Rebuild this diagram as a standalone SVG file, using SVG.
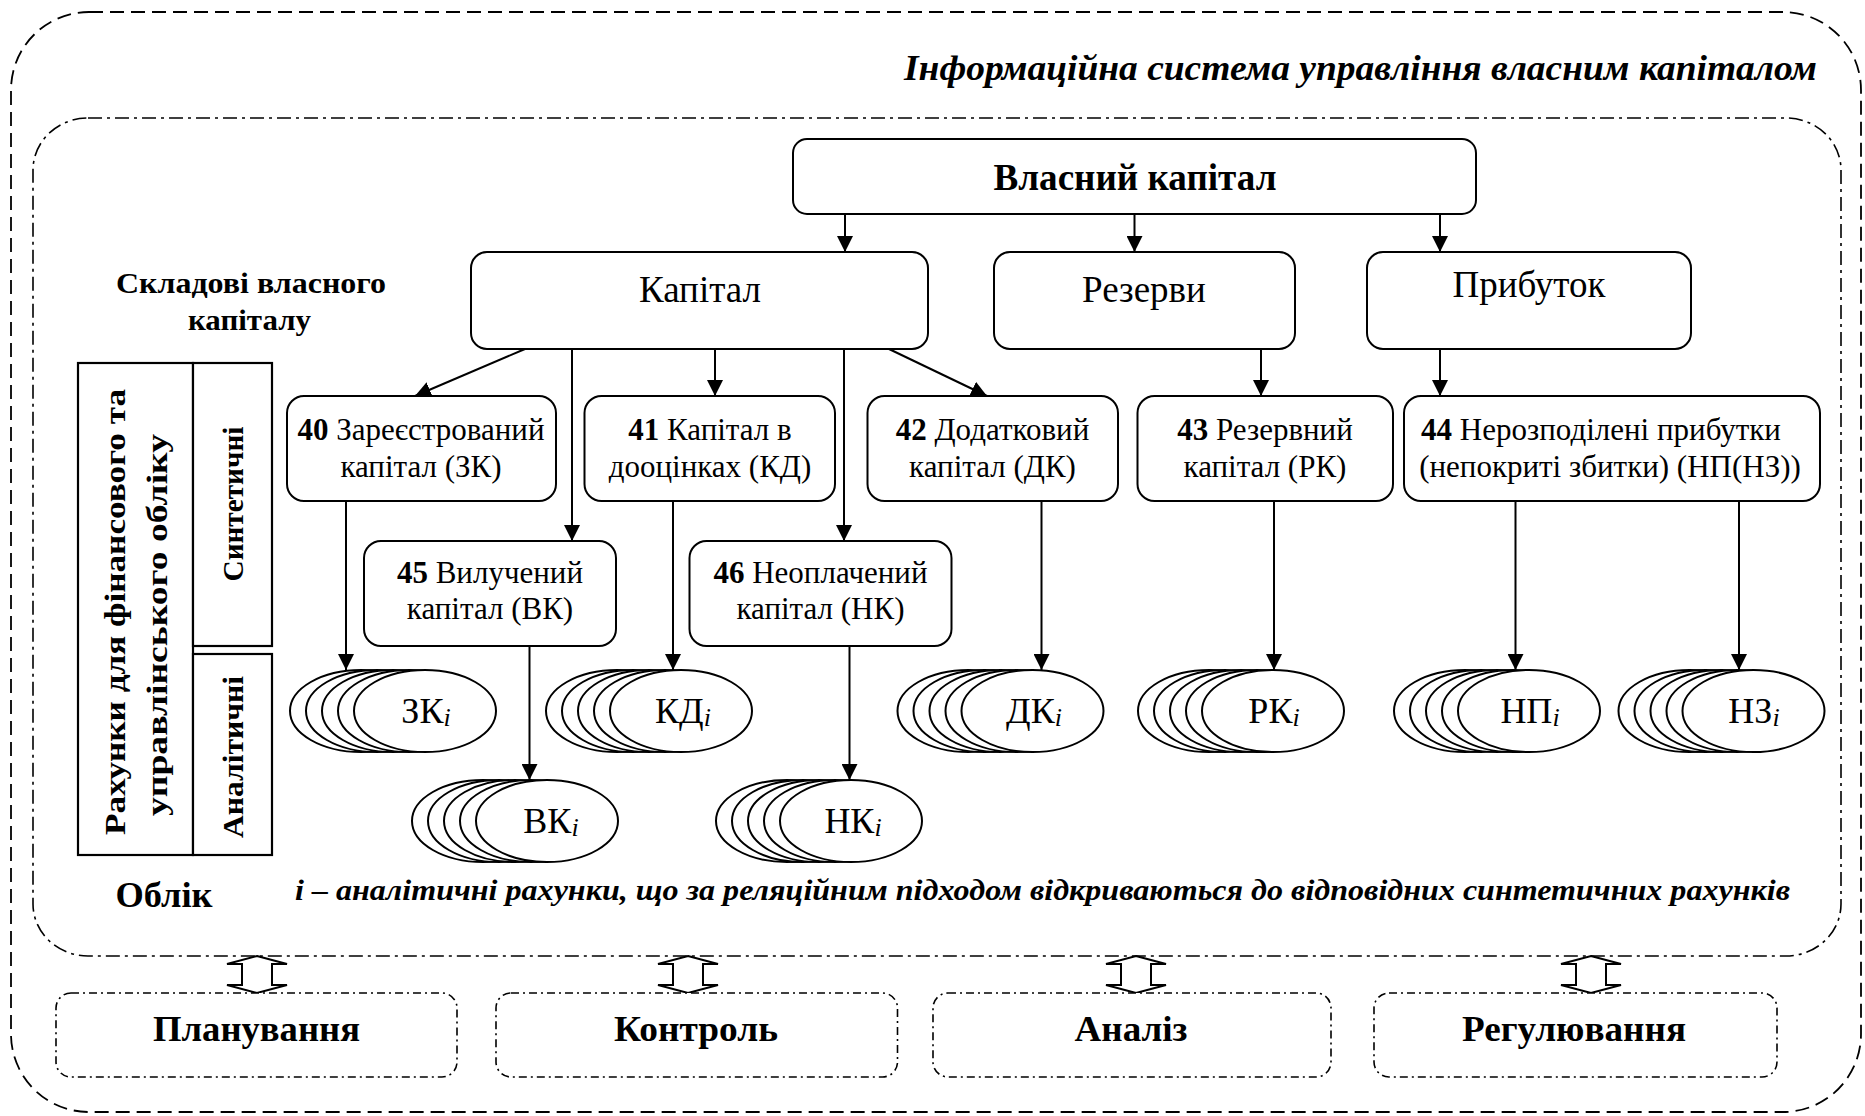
<svg xmlns="http://www.w3.org/2000/svg" xmlns:xlink="http://www.w3.org/1999/xlink" width="1865" height="1116" viewBox="0 0 1865 1116">
<style>
.frame-outer{fill:none;stroke:#000;stroke-width:1.8;stroke-dasharray:14 7}
.frame-inner{fill:none;stroke:#000;stroke-width:1.6;stroke-dasharray:14 5 3 5}
.frame-fn{fill:#fff;stroke:#000;stroke-width:1.6;stroke-dasharray:8 4 2 4}
.box{fill:#fff;stroke:#000;stroke-width:2}
.cell{fill:#fff;stroke:#000;stroke-width:2.2}
.n{font-size:31px;text-anchor:middle}
.big{font-size:37px;text-anchor:middle}
.b{font-weight:bold}
.lab{font-size:36px;text-anchor:middle}
.sub{font-size:26px;font-style:italic}
.fn{font-size:35px;font-weight:bold;text-anchor:middle}
.vert{font-size:30px;font-weight:bold;text-anchor:middle}
.con line{stroke:#000;stroke-width:2;marker-end:url(#ah)}
.stk{fill:#fff;stroke:#000;stroke-width:2}
.dbl{fill:#fff;stroke:#000;stroke-width:2}
</style>
<defs>
<marker id="ah" markerUnits="userSpaceOnUse" markerWidth="16" markerHeight="16" refX="16" refY="8" orient="auto">
<path d="M0,0 L16,8 L0,16 Z" fill="#000"/>
</marker>
<g id="stack">
<ellipse class="stk" cx="-64" cy="0" rx="71" ry="41"/>
<ellipse class="stk" cx="-48" cy="0" rx="71" ry="41"/>
<ellipse class="stk" cx="-32" cy="0" rx="71" ry="41"/>
<ellipse class="stk" cx="-16" cy="0" rx="71" ry="41"/>
<ellipse class="stk" cx="0" cy="0" rx="71" ry="41"/>
</g>
<path id="darrow" class="dbl" d="M0,0 L30,8 L15,8 L15,29 L30,29 L0,37 L-30,29 L-15,29 L-15,8 L-30,8 Z"/>
</defs>
<rect x="0" y="0" width="1865" height="1116" fill="#fff"/>

<g id="frame-system">
<rect class="frame-outer" x="11" y="12" width="1850" height="1100" rx="78" ry="78"/>
<text style="font-family:'Liberation Serif',serif" x="904" y="80" font-size="35" font-weight="bold" font-style="italic" textLength="913" lengthAdjust="spacingAndGlyphs">Інформаційна система управління власним капіталом</text>
</g>

<g id="frame-accounting">
<rect class="frame-inner" x="33" y="118" width="1808" height="838" rx="55" ry="52"/>
<text style="font-family:'Liberation Serif',serif" x="116" y="293" font-size="29" font-weight="bold" textLength="270" lengthAdjust="spacingAndGlyphs">Складові власного</text>
<text style="font-family:'Liberation Serif',serif" x="188" y="330" font-size="29" font-weight="bold" textLength="123" lengthAdjust="spacingAndGlyphs">капіталу</text>
<text style="font-family:'Liberation Serif',serif" class="fn" x="164" y="907" textLength="97" lengthAdjust="spacingAndGlyphs">Облік</text>
<text style="font-family:'Liberation Serif',serif" x="295" y="900" font-size="30" font-weight="bold" font-style="italic" textLength="1495" lengthAdjust="spacingAndGlyphs">і – аналітичні рахунки, що за реляційним підходом відкриваються до відповідних синтетичних рахунків</text>
</g>

<g id="accounts-table">
<rect class="cell" x="78" y="363" width="115" height="492"/>
<rect class="cell" x="193" y="363" width="79" height="283"/>
<rect class="cell" x="193" y="654" width="79" height="201"/>
<text style="font-family:'Liberation Serif',serif" class="vert" transform="translate(125,612) rotate(-90)" textLength="446" lengthAdjust="spacingAndGlyphs">Рахунки для фінансового та</text>
<text style="font-family:'Liberation Serif',serif" class="vert" transform="translate(167,625) rotate(-90)" textLength="382" lengthAdjust="spacingAndGlyphs">управлінського обліку</text>
<text style="font-family:'Liberation Serif',serif" class="vert" transform="translate(243,504) rotate(-90)" textLength="155" lengthAdjust="spacingAndGlyphs">Синтетичні</text>
<text style="font-family:'Liberation Serif',serif" class="vert" transform="translate(243,757) rotate(-90)" textLength="162" lengthAdjust="spacingAndGlyphs">Аналітичні</text>
</g>

<g id="connectors" class="con">
<line x1="845" y1="214" x2="845" y2="252"/>
<line x1="1134.5" y1="214" x2="1134.5" y2="252"/>
<line x1="1440" y1="214" x2="1440" y2="252"/>
<line x1="525" y1="349" x2="415" y2="396"/>
<line x1="572" y1="349" x2="572" y2="541"/>
<line x1="715" y1="349" x2="715" y2="396"/>
<line x1="844" y1="349" x2="844" y2="541"/>
<line x1="889" y1="349" x2="987" y2="396"/>
<line x1="1261" y1="349" x2="1261" y2="396"/>
<line x1="1440" y1="349" x2="1440" y2="396"/>
<line x1="346" y1="501" x2="346" y2="670"/>
<line x1="673" y1="501" x2="673" y2="670"/>
<line x1="529.5" y1="646" x2="529.5" y2="780"/>
<line x1="849.5" y1="646" x2="849.5" y2="780"/>
<line x1="1041.5" y1="501" x2="1041.5" y2="670"/>
<line x1="1274" y1="501" x2="1274" y2="670"/>
<line x1="1515.5" y1="501" x2="1515.5" y2="670"/>
<line x1="1739" y1="501" x2="1739" y2="670"/>
</g>

<g id="n-own-capital">
<rect class="box" x="793" y="139" width="683" height="75" rx="14"/>
<text style="font-family:'Liberation Serif',serif" class="big b" x="1135" y="190" textLength="283" lengthAdjust="spacingAndGlyphs">Власний капітал</text>
</g>
<g id="n-capital">
<rect class="box" x="471" y="252" width="457" height="97" rx="16"/>
<text style="font-family:'Liberation Serif',serif" class="big" x="700" y="302">Капітал</text>
</g>
<g id="n-reserves">
<rect class="box" x="994" y="252" width="301" height="97" rx="16"/>
<text style="font-family:'Liberation Serif',serif" class="big" x="1144" y="302">Резерви</text>
</g>
<g id="n-profit">
<rect class="box" x="1367" y="252" width="324" height="97" rx="16"/>
<text style="font-family:'Liberation Serif',serif" class="big" x="1529" y="297">Прибуток</text>
</g>

<g id="n-40">
<rect class="box" x="287" y="396" width="269" height="105" rx="17"/>
<text style="font-family:'Liberation Serif',serif" class="n" x="421" y="440"><tspan class="b">40</tspan> Зареєстрований</text>
<text style="font-family:'Liberation Serif',serif" class="n" x="421" y="477">капітал (ЗК)</text>
</g>
<g id="n-41">
<rect class="box" x="584.5" y="396" width="250.5" height="105" rx="17"/>
<text style="font-family:'Liberation Serif',serif" class="n" x="710" y="440"><tspan class="b">41</tspan> Капітал в</text>
<text style="font-family:'Liberation Serif',serif" class="n" x="710" y="477">дооцінках (КД)</text>
</g>
<g id="n-42">
<rect class="box" x="867.5" y="396" width="250.5" height="105" rx="17"/>
<text style="font-family:'Liberation Serif',serif" class="n" x="992.5" y="440"><tspan class="b">42</tspan> Додатковий</text>
<text style="font-family:'Liberation Serif',serif" class="n" x="992.5" y="477">капітал (ДК)</text>
</g>
<g id="n-43">
<rect class="box" x="1137.5" y="396" width="255.5" height="105" rx="17"/>
<text style="font-family:'Liberation Serif',serif" class="n" x="1265" y="440"><tspan class="b">43</tspan> Резервний</text>
<text style="font-family:'Liberation Serif',serif" class="n" x="1265" y="477">капітал (РК)</text>
</g>
<g id="n-44">
<rect class="box" x="1404" y="396" width="416" height="105" rx="17"/>
<text style="font-family:'Liberation Serif',serif" class="n" x="1601" y="440"><tspan class="b">44</tspan> Нерозподілені прибутки</text>
<text style="font-family:'Liberation Serif',serif" class="n" x="1610" y="477">(непокриті збитки) (НП(НЗ))</text>
</g>
<g id="n-45">
<rect class="box" x="364" y="541" width="252" height="105" rx="17"/>
<text style="font-family:'Liberation Serif',serif" class="n" x="490" y="583"><tspan class="b">45</tspan> Вилучений</text>
<text style="font-family:'Liberation Serif',serif" class="n" x="490" y="619">капітал (ВК)</text>
</g>
<g id="n-46">
<rect class="box" x="689.5" y="541" width="262" height="105" rx="17"/>
<text style="font-family:'Liberation Serif',serif" class="n" x="820.5" y="583"><tspan class="b">46</tspan> Неоплачений</text>
<text style="font-family:'Liberation Serif',serif" class="n" x="820.5" y="619">капітал (НК)</text>
</g>

<g id="a-zk">
<use xlink:href="#stack" x="425" y="711"/>
<text style="font-family:'Liberation Serif',serif" class="lab" x="426" y="723">ЗК<tspan class="sub" dy="3">i</tspan></text>
</g>
<g id="a-kd">
<use xlink:href="#stack" x="681" y="711"/>
<text style="font-family:'Liberation Serif',serif" class="lab" x="683" y="723">КД<tspan class="sub" dy="3">i</tspan></text>
</g>
<g id="a-dk">
<use xlink:href="#stack" x="1032.5" y="711"/>
<text style="font-family:'Liberation Serif',serif" class="lab" x="1034" y="723">ДК<tspan class="sub" dy="3">i</tspan></text>
</g>
<g id="a-rk">
<use xlink:href="#stack" x="1273" y="711"/>
<text style="font-family:'Liberation Serif',serif" class="lab" x="1274" y="723">РК<tspan class="sub" dy="3">i</tspan></text>
</g>
<g id="a-np">
<use xlink:href="#stack" x="1529" y="711"/>
<text style="font-family:'Liberation Serif',serif" class="lab" x="1530" y="723">НП<tspan class="sub" dy="3">i</tspan></text>
</g>
<g id="a-nz">
<use xlink:href="#stack" x="1753.5" y="711"/>
<text style="font-family:'Liberation Serif',serif" class="lab" x="1754" y="723">НЗ<tspan class="sub" dy="3">i</tspan></text>
</g>
<g id="a-vk">
<use xlink:href="#stack" x="547" y="821"/>
<text style="font-family:'Liberation Serif',serif" class="lab" x="551" y="833">ВК<tspan class="sub" dy="3">i</tspan></text>
</g>
<g id="a-nk">
<use xlink:href="#stack" x="851" y="821"/>
<text style="font-family:'Liberation Serif',serif" class="lab" x="853" y="833">НК<tspan class="sub" dy="3">i</tspan></text>
</g>

<g id="links-functions">
<use xlink:href="#darrow" x="257" y="956"/>
<use xlink:href="#darrow" x="688" y="956"/>
<use xlink:href="#darrow" x="1136" y="956"/>
<use xlink:href="#darrow" x="1591" y="956"/>
</g>

<g id="f-planning">
<rect class="frame-fn" x="56" y="993" width="401" height="84" rx="15"/>
<text style="font-family:'Liberation Serif',serif" class="fn" x="256.5" y="1041" textLength="207" lengthAdjust="spacingAndGlyphs">Планування</text>
</g>
<g id="f-control">
<rect class="frame-fn" x="496" y="993" width="401.5" height="84" rx="15"/>
<text style="font-family:'Liberation Serif',serif" class="fn" x="696" y="1041" textLength="164" lengthAdjust="spacingAndGlyphs">Контроль</text>
</g>
<g id="f-analysis">
<rect class="frame-fn" x="933" y="993" width="398" height="84" rx="15"/>
<text style="font-family:'Liberation Serif',serif" class="fn" x="1131" y="1041" textLength="113" lengthAdjust="spacingAndGlyphs">Аналіз</text>
</g>
<g id="f-regulation">
<rect class="frame-fn" x="1374" y="993" width="403" height="84" rx="15"/>
<text style="font-family:'Liberation Serif',serif" class="fn" x="1574" y="1041" textLength="224" lengthAdjust="spacingAndGlyphs">Регулювання</text>
</g>
</svg>
